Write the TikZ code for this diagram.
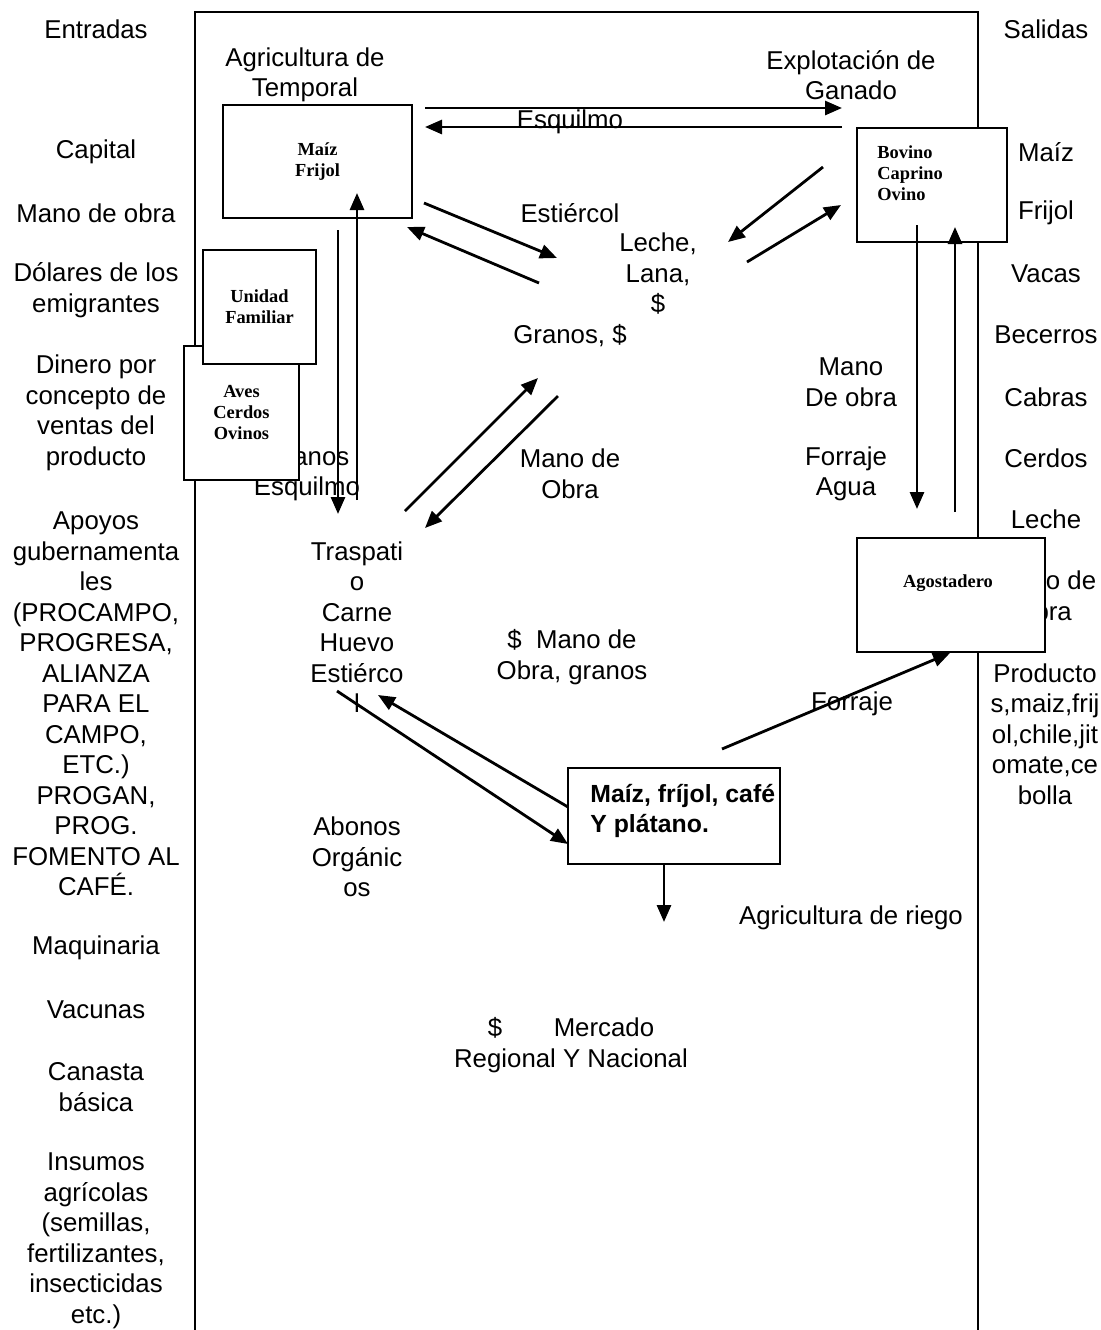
\documentclass[tikz,border=0pt]{standalone}
\usepackage{fontspec}
\setmainfont{Liberation Sans}
\newfontfamily\serifbox{Liberation Serif}
\usetikzlibrary{arrows.meta}

\begin{document}
\begin{tikzpicture}[x=0.5pt, y=-0.5pt,
    txt/.style={align=center,
        inner sep=0pt,
        font=\fontsize{12.9}{15.25}\selectfont,
        },
    box/.style={rectangle,
        draw,
        fill=white,
        line width=1pt,
        inner sep=0pt,
        align=center,
        font=\serifbox\bfseries\fontsize{9.2}{10.5}\selectfont,
        },
    box_txt/.style={inner sep=0pt,
        align=left,
        font=\serifbox\bfseries\fontsize{9.2}{10.5}\selectfont,
        },
    flow/.style={line width=1.4pt,
        -{Triangle[length=8.5pt,width=7pt]},
        },
    ]
    \useasboundingbox (0,0) rectangle (1101,1330);

    % frame
    \draw[line width=1pt] (195,1330) -- (195,12) -- (978,12) -- (978,1330);

    % entradas
    \node[txt] (t_entradas) at (96,29) {Entradas};
    \node[txt] (t_capital) at (96,152) {Capital};
    \node[txt] (t_mano_in) at (96,213) {Mano de obra};
    \node[txt] (t_dolares) at (96,290) {Dólares de los\\emigrantes};
    \node[txt] (t_dinero) at (96,413) {Dinero por\\concepto de\\ventas del\\producto};
    \node[txt] (t_apoyos) at (96,704) {Apoyos\\gubernamenta\\les\\(PROCAMPO,\\PROGRESA,\\ALIANZA\\PARA EL\\CAMPO,\\ETC.)\\PROGAN,\\PROG.\\FOMENTO AL\\CAFÉ.};
    \node[txt] (t_maquinaria) at (96,948) {Maquinaria};
    \node[txt] (t_vacunas) at (96,1010) {Vacunas};
    \node[txt] (t_canasta) at (96,1087) {Canasta\\básica};
    \node[txt] (t_insumos) at (96,1241) {Insumos\\agrícolas\\(semillas,\\fertilizantes,\\insecticidas\\etc.)};

    % salidas
    \node[txt] (t_salidas) at (1046,29) {Salidas};
    \node[txt] (t_maiz_out) at (1046,152) {Maíz};
    \node[txt] (t_frijol_out) at (1046,213) {Frijol};
    \node[txt] (t_vacas) at (1046,274) {Vacas};
    \node[txt] (t_becerros) at (1046,335) {Becerros};
    \node[txt] (t_cabras) at (1046,397) {Cabras};
    \node[txt] (t_cerdos) at (1046,458) {Cerdos};
    \node[txt] (t_leche_out) at (1046,519) {Leche};
    \node[txt] (t_mano_out) at (1046,596) {Mano de\\obra};
    \node[txt] (t_productos) at (1045,734) {Producto\\s,maiz,frij\\ol,chile,jit\\omate,ce\\bolla};

    % flujos internos
    \node[txt] (t_temporal) at (305,75) {Agricultura de\\Temporal};
    \node[txt] (t_ganado) at (851,75) {Explotación de\\Ganado};
    \node[txt] (t_esquilmo) at (570,122) {Esquilmo};
    \node[txt] (t_estiercol) at (570,213) {Estiércol};
    \node[txt] (t_leche) at (658,274) {Leche,\\Lana,\\\$};
    \node[txt] (t_granos) at (570,336) {Granos, \$};
    \node[txt] (t_mano_ganado) at (851,382) {Mano\\De obra};
    \node[txt] (t_forraje_agua) at (846,474) {Forraje\\Agua};
    \node[txt] (t_granos_esq) at (307,474) {Granos\\Esquilmo};
    \node[txt] (t_mano_obra) at (570,474) {Mano de\\Obra};
    \node[txt] (t_traspatio) at (357,627) {Traspati\\o\\Carne\\Huevo\\Estiérco\\l};
    \node[txt] (t_mano_granos) at (572,657) {\$\ \ Mano de\\Obra, granos};
    \node[txt] (t_forraje) at (852,704) {Forraje};
    \node[txt] (t_abonos) at (357,857) {Abonos\\Orgánic\\os};
    \node[txt] (t_riego) at (851,918) {Agricultura de riego};
    \node[txt] (t_mercado) at (571,1045) {\$\hspace{2em}Mercado\\Regional Y Nacional};

    % cajas
    \node[box, minimum width=94.5pt, minimum height=56.5pt] (box_temporal) at (317.5,161.5) {Maíz\\Frijol};
    \node[box, minimum width=75pt, minimum height=57pt] (box_ganado) at (932,185) {};
    \node[box_txt, anchor=west] (txt_ganado) at (877,173) {Bovino\\Caprino\\Ovino};
    \node[box, minimum width=57.5pt, minimum height=67pt] (box_aves) at (241.5,413) {Aves\\Cerdos\\Ovinos};
    \node[box, minimum width=56.5pt, minimum height=57pt] (box_familia) at (259.5,307) {Unidad\\Familiar};
    \node[box, minimum width=94pt, minimum height=57pt] (box_agostadero) at (951,595) {};
    \node[box_txt] (txt_agostadero) at (948,583) {Agostadero};
    \node[box, minimum width=106pt, minimum height=48pt] (box_riego) at (674,816) {};
    \node[inner sep=0pt, anchor=west, align=left, font=\bfseries\fontsize{12.4}{15}\selectfont] (txt_riego) at (590,811) {Maíz, fríjol, café\\Y plátano.};

    % puntos de las flechas
    \coordinate (a1s) at (425,108);  \coordinate (a1e) at (842,108);
    \coordinate (a2s) at (842,127);  \coordinate (a2e) at (425,127);
    \coordinate (a3s) at (424,203);  \coordinate (a3e) at (557,258);
    \coordinate (a4s) at (539,283);  \coordinate (a4e) at (407,227);
    \coordinate (a5s) at (823,167);  \coordinate (a5e) at (728,242);
    \coordinate (a6s) at (747,262);  \coordinate (a6e) at (841,205);
    \coordinate (a7s) at (405,511);  \coordinate (a7e) at (538,378);
    \coordinate (a8s) at (558,396);  \coordinate (a8e) at (425,528);
    \coordinate (a9s) at (338,230);  \coordinate (a9e) at (338,514);
    \coordinate (a10s) at (357,500); \coordinate (a10e) at (357,193);
    \coordinate (a11s) at (917,225); \coordinate (a11e) at (917,509);
    \coordinate (a12s) at (955,512); \coordinate (a12e) at (955,227);
    \coordinate (a13s) at (337,691); \coordinate (a13e) at (568,844);
    \coordinate (a14s) at (568,807); \coordinate (a14e) at (378,695);
    \coordinate (a15s) at (664,864); \coordinate (a15e) at (664,922);
    \coordinate (a16s) at (722,749); \coordinate (a16e) at (950,653);

    \foreach \i in {1,...,16}
        \draw[flow] (a\i s) -- (a\i e);

\end{tikzpicture}
\end{document}
